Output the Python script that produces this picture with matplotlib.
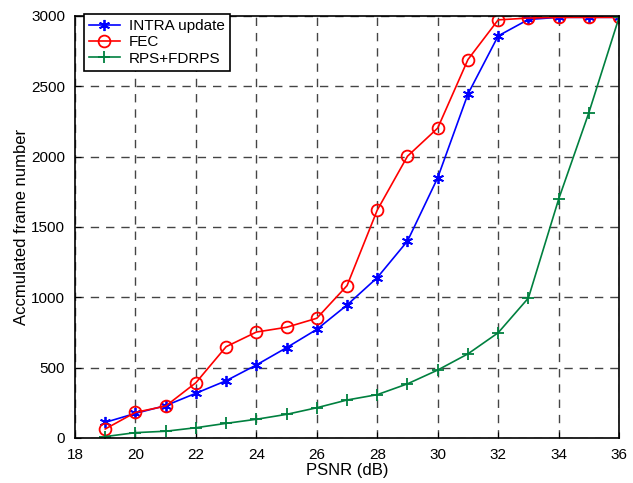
import matplotlib
matplotlib.use("Agg")
import matplotlib.pyplot as plt

plt.rcParams['font.family'] = ['Liberation Sans', 'DejaVu Sans']

psnr = [19, 20, 21, 22, 23, 24, 25, 26, 27, 28, 29, 30, 31, 32, 33, 34, 35, 36]
intra = [111, 175, 230, 318, 407, 519, 642, 772, 945, 1140, 1400, 1850, 2445, 2858, 2975, 2990, 2990, 2990]
fec = [64, 182, 227, 393, 649, 753, 787, 851, 1083, 1620, 2003, 2203, 2690, 2972, 2985, 2990, 2990, 2990]
rps = [10, 38, 48, 73, 104, 133, 168, 215, 270, 308, 385, 483, 598, 748, 995, 1697, 2312, 2990]

xticks = [18, 20, 22, 24, 26, 28, 30, 32, 34, 36]
yticks = [0, 500, 1000, 1500, 2000, 2500, 3000]

fig = plt.figure(figsize=(6.33, 4.83), dpi=100)
ax = fig.add_axes([0.1185, 0.0932, 0.8595, 0.8738])

ax.plot(psnr, intra, color='blue', marker=(6, 2, 0), markersize=8, linewidth=1.2,
        markeredgewidth=1.3, label='INTRA update')
ax.plot(psnr, fec, color='red', marker='o', markersize=8.5, markerfacecolor='none',
        markeredgewidth=1.3, linewidth=1.2, label='FEC')
ax.plot(psnr, rps, color='#00803f', marker='+', markersize=9, markeredgewidth=1.3,
        linewidth=1.2, label='RPS+FDRPS')

ax.set_xlim(18, 36)
ax.set_ylim(0, 3000)
ax.set_xticks(xticks)
ax.set_yticks(yticks)
ax.tick_params(direction='in', labelsize=11, length=4, pad=7)
ax.grid(True, linestyle=(0, (6, 5)), color='#444444', linewidth=1.0)
for s in ax.spines.values():
    s.set_linewidth(1.2)
ax.set_xlabel('PSNR (dB)', fontsize=12, labelpad=1)
ax.set_ylabel('Accmulated frame number', fontsize=12, labelpad=2)

leg = ax.legend(loc='upper left', bbox_to_anchor=(0.016, 1.005), fontsize=11,
                fancybox=False, framealpha=1, edgecolor='black', borderaxespad=0.0,
                handlelength=2.0, handletextpad=0.6, labelspacing=0.15, borderpad=0.35)
leg.get_frame().set_linewidth(1.2)

fig.savefig('out.png', dpi=100)
